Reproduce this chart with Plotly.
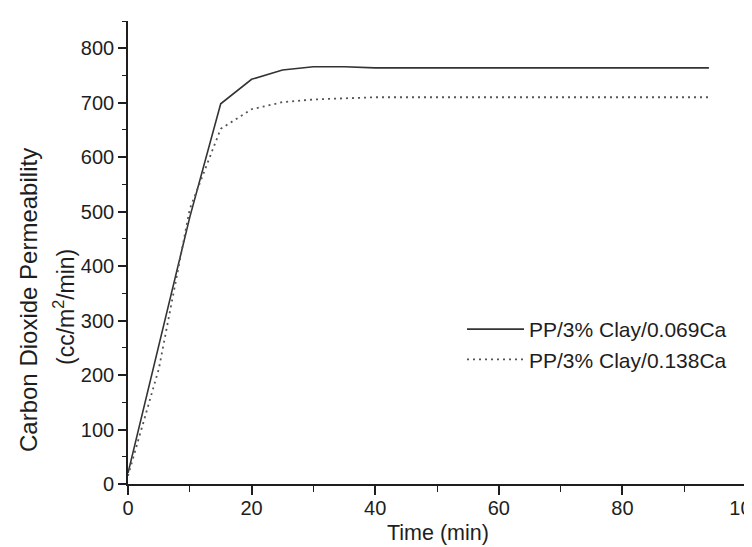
import plotly.graph_objects as go

# Data
time_a = [0, 5, 10, 15, 20, 25, 30, 35, 40, 45, 50, 55, 60, 65, 70, 75, 80, 85, 90, 94]
perm_a = [20, 255, 490, 698, 743, 760, 766, 766, 764, 764, 764, 764, 764, 764, 764, 764, 764, 764, 764, 764]

time_b = [0, 5, 10, 15, 20, 25, 30, 35, 40, 45, 50, 55, 60, 65, 70, 75, 80, 85, 90, 94]
perm_b = [15, 212, 505, 652, 688, 701, 706, 708, 710, 710, 710, 710, 710, 710, 710, 710, 710, 710, 710, 710]

name_a = "PP/3% Clay/0.069Ca"
name_b = "PP/3% Clay/0.138Ca"

x_ticks = [0, 20, 40, 60, 80, 100]
y_ticks = [0, 100, 200, 300, 400, 500, 600, 700, 800]

FONT = "Liberation Sans, Arial, Helvetica, sans-serif"
INK = "#1e1e1e"

# plot-area geometry in pixels (for placing text)
L, R, T, B = 120, 14, 13, 71
PH = 547 - T - B
X0PX = 120
Y0PX = 547 - B

fig = go.Figure()
fig.add_trace(go.Scatter(x=time_a, y=perm_a, mode="lines", name=name_a,
                         line=dict(color="#333333", width=1.6)))
fig.add_trace(go.Scatter(x=time_b, y=perm_b, mode="lines", name=name_b,
                         line=dict(color="#555555", width=1.8, dash="2px,4px")))

fig.update_layout(
    width=752, height=547,
    margin=dict(l=L, r=R, t=T, b=B, autoexpand=False),
    paper_bgcolor="white", plot_bgcolor="white",
    font=dict(family=FONT, size=20, color=INK),
    showlegend=True,
    legend=dict(x=(454 - L) / 618, y=(Y0PX - 301) / PH, xanchor="left", yanchor="top",
                bgcolor="rgba(0,0,0,0)", font=dict(size=21, color=INK),
                itemwidth=57, tracegroupgap=0),
    xaxis=dict(range=[0, 100], tickvals=x_ticks, ticktext=[str(v) for v in x_ticks],
               showline=True, linecolor=INK, linewidth=1.6, ticks="outside",
               ticklen=9, tickwidth=1.6, tickcolor=INK, showgrid=False, zeroline=False,
               automargin=False, ticklabeloverflow="allow", ticklabelstandoff=-4,
               tickfont=dict(size=20),
               minor=dict(dtick=10, ticks="outside", ticklen=6, tickwidth=1.4, tickcolor=INK, showgrid=False)),
    yaxis=dict(range=[0, 850], tickvals=y_ticks, ticktext=[str(v) for v in y_ticks],
               showline=True, linecolor=INK, linewidth=1.6, ticks="outside",
               ticklen=8, tickwidth=1.6, tickcolor=INK, showgrid=False, zeroline=False,
               automargin=False, ticklabeloverflow="allow", tickfont=dict(size=20),
               minor=dict(dtick=50, ticks="outside", ticklen=4, tickwidth=1.4, tickcolor=INK, showgrid=False)),
    annotations=[
        dict(text="Carbon Dioxide Permeability", textangle=-90, showarrow=False,
             xref="paper", yref="paper", x=0, y=(Y0PX - 292) / PH, xanchor="center", yanchor="middle",
             xshift=20 - X0PX, font=dict(size=24, color=INK)),
        dict(text="(cc/m<sup>2</sup>/min)", textangle=-90, showarrow=False,
             xref="paper", yref="paper", x=0, y=(Y0PX - 299) / PH, xanchor="center", yanchor="middle",
             xshift=56 - X0PX, font=dict(size=23, color=INK)),
        dict(text="Time (min)", showarrow=False,
             xref="paper", yref="paper", x=(430 - L) / 618, y=(Y0PX - 525) / PH,
             xanchor="center", yanchor="middle", font=dict(size=21.5, color=INK)),
    ],
)

fig.write_html("out.html")
